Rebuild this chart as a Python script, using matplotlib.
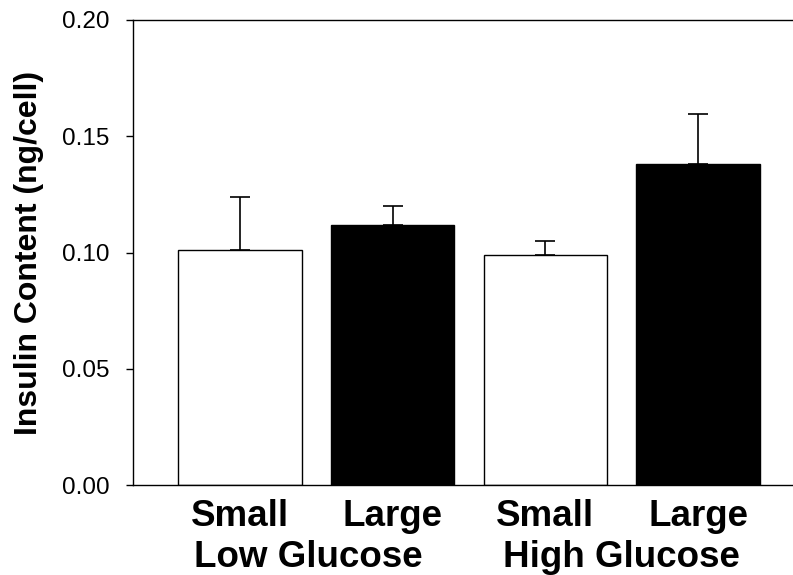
import matplotlib
matplotlib.use("Agg")
import matplotlib.pyplot as plt
import matplotlib.transforms as mtransforms

categories = ["Small", "Large", "Small", "Large"]
groups = ["Low Glucose", "High Glucose"]
means = [0.101, 0.112, 0.0988, 0.138]
errors = [0.023, 0.008, 0.0062, 0.0216]
colors = ["white", "black", "white", "black"]
yticks = [0.00, 0.05, 0.10, 0.15, 0.20]
ytick_labels = ["0.00", "0.05", "0.10", "0.15", "0.20"]
ylabel = "Insulin Content (ng/cell)"

plt.rcParams['font.family'] = ['Liberation Sans', 'DejaVu Sans']

fig = plt.figure(figsize=(7.93, 5.75), dpi=100)
ax = fig.add_axes([133/793, 1-485/575, 672/793, 465/575])

x = list(range(len(means)))
ax.bar(x, means, width=0.81, color=colors, edgecolor="black", linewidth=1.0, zorder=2)
ax.errorbar(x, means, yerr=[[0]*len(errors), errors], fmt="none", ecolor="black",
            elinewidth=1.2, capsize=7, capthick=1.2, zorder=1)

ax.set_xlim(-0.70, 3.70)
ax.set_ylim(0, 0.20)
ax.set_yticks(yticks)
ax.set_yticklabels(ytick_labels, fontsize=17.5)
ax.set_xticks(x)
ax.set_xticklabels(categories, fontsize=26.5, fontweight="bold")
ax.tick_params(axis="x", length=0, pad=10)
ax.tick_params(axis="y", length=5, width=1, pad=12, direction="out")

for s in ["left", "bottom", "top"]:
    ax.spines[s].set_linewidth(1.0)
    ax.spines[s].set_color("black")
ax.spines["right"].set_visible(False)

ax.set_ylabel(ylabel, fontsize=23, fontweight="bold")
ax.yaxis.set_label_coords(-0.132, 0.5)

trans = mtransforms.blended_transform_factory(ax.transData, ax.transAxes)
ax.text(0.45, -0.118, groups[0], transform=trans, ha="center", va="top",
        fontsize=26.5, fontweight="bold")
ax.text(2.5, -0.118, groups[1], transform=trans, ha="center", va="top",
        fontsize=26.5, fontweight="bold")

fig.savefig("out.png", dpi=100)
